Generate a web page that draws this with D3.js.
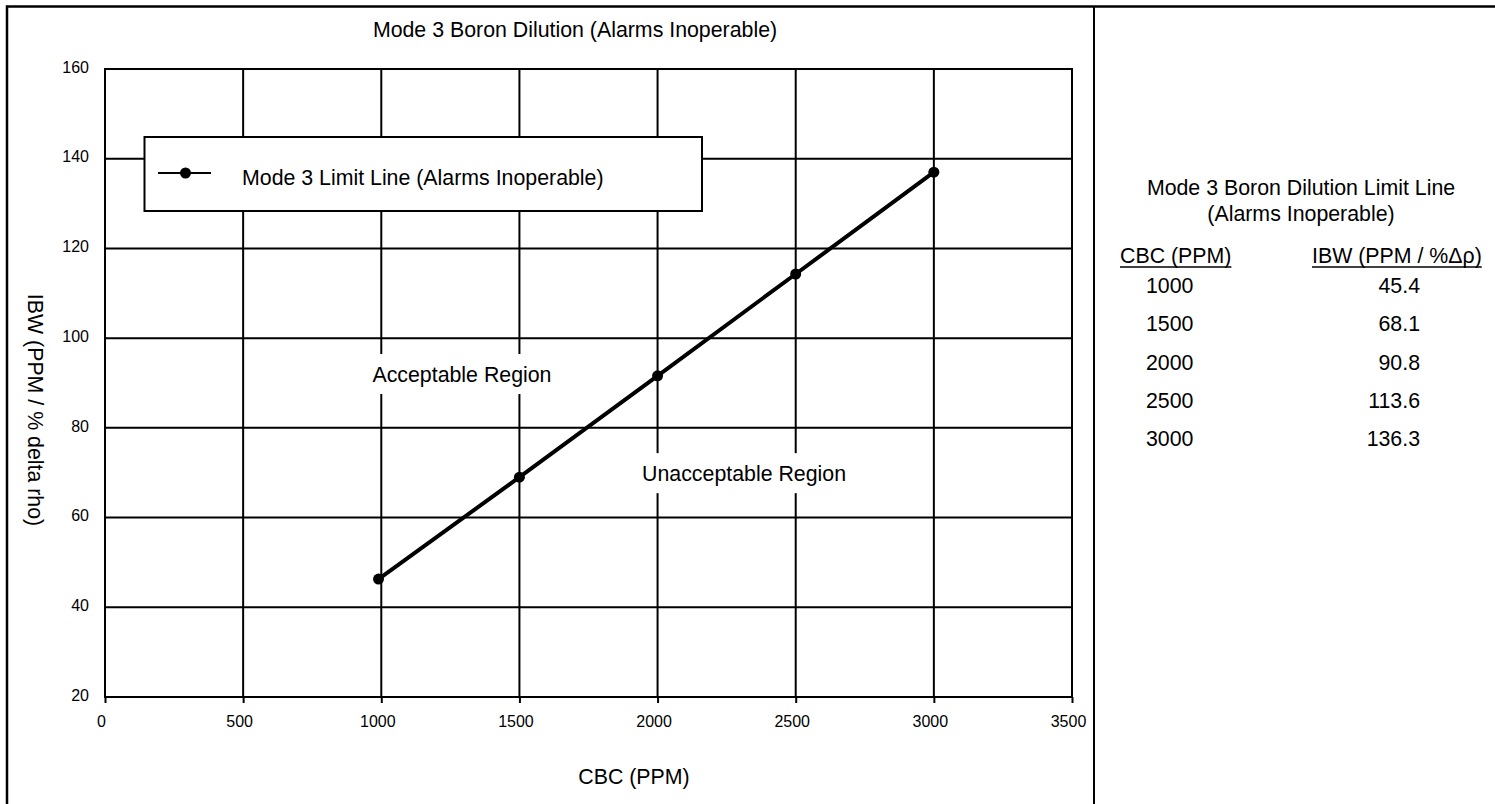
<!DOCTYPE html>
<html><head><meta charset="utf-8">
<script src="https://cdn.jsdelivr.net/npm/d3@7"></script>
<style>
html,body{margin:0;padding:0;background:#fff;}
text{font-family:"Liberation Sans",Arial,sans-serif;fill:#000;}
</style></head>
<body><svg id="c" width="1495" height="804"></svg>
<script>
// ---- data ----
const plotCBC = [990, 1500, 2000, 2500, 3000];
const plotIBW = [46.3, 69.0, 91.6, 114.3, 137.0];
const xTicks = [0, 500, 1000, 1500, 2000, 2500, 3000, 3500];
const yTicks = [20, 40, 60, 80, 100, 120, 140, 160];
const tableCBC = ["1000", "1500", "2000", "2500", "3000"];
const tableIBW = ["45.4", "68.1", "90.8", "113.6", "136.3"];
const chartTitle = "Mode 3 Boron Dilution (Alarms Inoperable)";
const legendLabel = "Mode 3 Limit Line (Alarms Inoperable)";
const xTitle = "CBC (PPM)";
const yTitle = "IBW (PPM / % delta rho)";
const tableTitle = ["Mode 3 Boron Dilution Limit Line", "(Alarms Inoperable)"];
const tableHeaders = ["CBC (PPM)", "IBW (PPM / %\u0394\u03c1)"];
const regionLabels = [{text:"Acceptable Region", cbc:1292, ibw:92.0}, {text:"Unacceptable Region", cbc:2313, ibw:69.9}];

const FS = 21.33;
const svg = d3.select("#c");
const L = 105, R = 1072, T = 69, B = 697;
const x = d3.scaleLinear().domain([0, 3500]).range([L, R]);
const y = d3.scaleLinear().domain([20, 160]).range([B, T]);

// outer border & divider
svg.append("rect").attr("x", 7).attr("y", 6.5).attr("width", 1600).attr("height", 900)
  .attr("fill", "none").attr("stroke", "#000").attr("stroke-width", 2.5);
svg.append("line").attr("x1", 1094).attr("x2", 1094).attr("y1", 6).attr("y2", 804)
  .attr("stroke", "#000").attr("stroke-width", 2);

// gridlines
const g = svg.append("g");
g.selectAll(".gx").data(xTicks.slice(1, -1)).join("line")
  .attr("x1", d => x(d)).attr("x2", d => x(d)).attr("y1", T).attr("y2", B)
  .attr("stroke", "#000").attr("stroke-width", 2);
g.selectAll(".gy").data(yTicks.slice(1, -1)).join("line")
  .attr("x1", L).attr("x2", R).attr("y1", d => y(d)).attr("y2", d => y(d))
  .attr("stroke", "#000").attr("stroke-width", 2);

// axes
const xa = svg.append("g").attr("transform", `translate(0,${B})`)
  .call(d3.axisBottom(x).tickValues(xTicks).tickSize(6).tickPadding(13).tickFormat(d3.format("d")));
xa.select(".domain").remove();
xa.selectAll("line").attr("stroke", "#000").attr("stroke-width", 2);
xa.selectAll("text").attr("font-size", 16).attr("dx", -4).style("font-family", '"Liberation Sans",Arial,sans-serif');

const ya = svg.append("g").attr("transform", `translate(${L},0)`)
  .call(d3.axisLeft(y).tickValues(yTicks).tickSize(0).tickPadding(16));
ya.select(".domain").remove();
ya.selectAll("text").attr("font-size", 16).attr("dy", "0.2em").style("font-family", '"Liberation Sans",Arial,sans-serif');

// frame
svg.append("rect").attr("x", L).attr("y", T).attr("width", R - L).attr("height", B - T)
  .attr("fill", "none").attr("stroke", "#000").attr("stroke-width", 2);

// region labels with white backgrounds
regionLabels.forEach(r => {
  const t = svg.append("text").attr("x", x(r.cbc)).attr("y", y(r.ibw) + 7.5)
    .attr("text-anchor", "middle").attr("font-size", FS).text(r.text);
  const bb = t.node().getBBox();
  svg.insert("rect", () => t.node()).attr("x", bb.x - 8).attr("y", y(r.ibw) - 20)
    .attr("width", bb.width + 16).attr("height", 40).attr("fill", "#fff");
});

// data line
const line = d3.line().x((d, i) => x(plotCBC[i])).y(d => y(d));
svg.append("path").datum(plotIBW).attr("d", line).attr("fill", "none")
  .attr("stroke", "#000").attr("stroke-width", 4);
svg.selectAll(".pt").data(plotIBW).join("circle")
  .attr("cx", (d, i) => x(plotCBC[i])).attr("cy", d => y(d)).attr("r", 5.5).attr("fill", "#000");

// legend
svg.append("rect").attr("x", 144.5).attr("y", 137).attr("width", 557.5).attr("height", 74)
  .attr("fill", "#fff").attr("stroke", "#000").attr("stroke-width", 2);
svg.append("line").attr("x1", 158).attr("x2", 211).attr("y1", 173).attr("y2", 173)
  .attr("stroke", "#000").attr("stroke-width", 2);
svg.append("circle").attr("cx", 185.5).attr("cy", 173).attr("r", 5.5).attr("fill", "#000");
svg.append("text").attr("x", 242).attr("y", 184.5).attr("font-size", FS).text(legendLabel);

// titles
svg.append("text").attr("x", 575).attr("y", 37).attr("text-anchor", "middle").attr("font-size", FS).text(chartTitle);
svg.append("text").attr("x", 634).attr("y", 784).attr("text-anchor", "middle").attr("font-size", FS).text(xTitle);
svg.append("text").attr("transform", "translate(28,410) rotate(90)").attr("text-anchor", "middle")
  .attr("font-size", FS).text(yTitle);

// table
svg.selectAll(".tt").data(tableTitle).join("text")
  .attr("x", 1301).attr("y", (d, i) => 195 + i * 26).attr("text-anchor", "middle").attr("font-size", FS).text(d => d);
const hx = [1120, 1312];
tableHeaders.forEach((h, i) => {
  const t = svg.append("text").attr("x", hx[i]).attr("y", 263).attr("font-size", FS).text(h);
  const w = t.node().getComputedTextLength();
  svg.append("line").attr("x1", hx[i]).attr("x2", hx[i] + w).attr("y1", 267).attr("y2", 267)
    .attr("stroke", "#000").attr("stroke-width", 1.5);
});
const rowY = d3.scaleLinear().domain([0, 4]).range([293, 446]);
svg.selectAll(".c1").data(tableCBC).join("text")
  .attr("x", 1146).attr("y", (d, i) => rowY(i)).attr("font-size", FS).text(d => d);
svg.selectAll(".c2").data(tableIBW).join("text")
  .attr("x", 1420).attr("y", (d, i) => rowY(i)).attr("text-anchor", "end").attr("font-size", FS).text(d => d);
</script></body></html>
